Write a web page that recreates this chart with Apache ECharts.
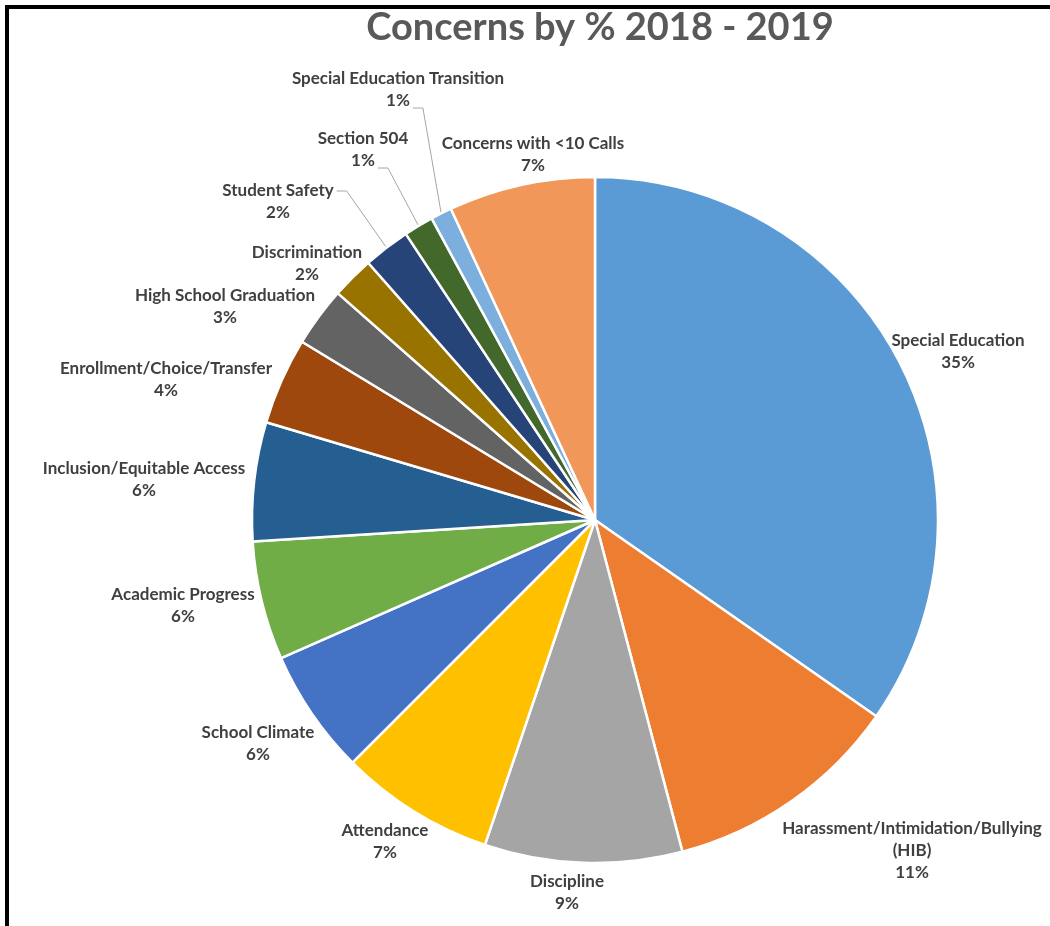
<!DOCTYPE html>
<html>
<head>
<meta charset="utf-8">
<script src="https://cdn.jsdelivr.net/npm/echarts@6/dist/echarts.min.js"></script>
<style>
  html, body { margin: 0; padding: 0; background: #fff; }
  #chart { width: 1050px; height: 926px; }
</style>
</head>
<body>
<div id="chart"></div>
<script>
// Share of calls per concern, clockwise from 12 o'clock
const categories = [
  'Special Education',
  'Harassment/Intimidation/Bullying (HIB)',
  'Discipline',
  'Attendance',
  'School Climate',
  'Academic Progress',
  'Inclusion/Equitable Access',
  'Enrollment/Choice/Transfer',
  'High School Graduation',
  'Discrimination',
  'Student Safety',
  'Section 504',
  'Special Education Transition',
  'Concerns with <10 Calls'
];
const shares = [34.7, 11.2, 9.3, 7.3, 5.9, 5.6, 5.6, 4.1, 2.8, 2.0, 2.2, 1.4, 1.0, 6.9];
const colors = [
  '#5B9BD5', '#ED7D31', '#A5A5A5', '#FFC000', '#4472C4', '#70AD47', '#255E91',
  '#9E480E', '#636363', '#997300', '#264478', '#43682B', '#7CAFDD', '#F1975A'
];

// Centre of each label block (pixels)
const labelCentres = [
  [958, 352], [912, 851], [567, 893], [385, 842], [258, 744], [183, 606], [144, 480],
  [166, 380], [225, 307], [307, 264], [278, 202], [363, 150], [398, 90], [533, 155]
];
// Labels joined to their slice by a leader line, and which text line it leaves from
const leaderFrom = {
  'Student Safety': 'first',
  'Section 504': 'last',
  'Special Education Transition': 'last'
};

const CX = 595, CY = 520, R = 343;
const LABEL_FONT_SIZE = 17;
const LABEL_FONT_FAMILY = 'Lato';
const LINE_H = 22;

const total = shares.reduce((a, b) => a + b, 0);
const midAngles = [];
let acc = 0;
shares.forEach(v => { midAngles.push((acc + v / 2) / total * 2 * Math.PI); acc += v; });

const measureCtx = document.createElement('canvas').getContext('2d');
measureCtx.font = 'bold ' + LABEL_FONT_SIZE + 'px ' + LABEL_FONT_FAMILY;

const chart = echarts.init(document.getElementById('chart'), null, { renderer: 'canvas' });

chart.setOption({
  backgroundColor: '#ffffff',
  animation: false,
  graphic: [
    { type: 'line', shape: { x1: 5, y1: 7, x2: 1050, y2: 7 }, style: { stroke: '#000', lineWidth: 4 } },
    { type: 'line', shape: { x1: 7, y1: 5, x2: 7, y2: 926 }, style: { stroke: '#000', lineWidth: 4 } },
    {
      type: 'text', x: 600, y: 28,
      style: {
        text: 'Concerns by % 2018 - 2019',
        align: 'center', verticalAlign: 'middle',
        fontFamily: 'Lato', fontWeight: 'bold', fontSize: 38, fill: '#595959'
      }
    }
  ],
  series: [{
    type: 'pie',
    center: [CX, CY],
    radius: R,
    startAngle: 90,
    clockwise: true,
    avoidLabelOverlap: false,
    itemStyle: { borderColor: '#ffffff', borderWidth: 2.5 },
    label: {
      show: true,
      position: 'outside',
      color: '#404040',
      fontFamily: LABEL_FONT_FAMILY,
      fontWeight: 'bold',
      fontSize: LABEL_FONT_SIZE,
      lineHeight: LINE_H,
      align: 'center',
      formatter: p => p.name.replace(' (HIB)', '\n(HIB)') + '\n' + Math.round(p.percent) + '%'
    },
    labelLine: { show: false, smooth: false, lineStyle: { color: '#a6a6a6', width: 1 } },
    emphasis: { disabled: true },
    labelLayout: params => {
      const i = params.dataIndex;
      const [x, y] = labelCentres[i];
      const out = { x: x, y: y, align: 'center', verticalAlign: 'middle' };
      const mode = leaderFrom[categories[i]];
      if (mode) {
        const lines = params.text.split('\n');
        const n = lines.length;
        const li = mode === 'first' ? 0 : n - 1;
        const w = measureCtx.measureText(lines[li]).width;
        const ly = y + (li - (n - 1) / 2) * LINE_H + (mode === 'last' ? 7 : 0);
        const ax = x + w / 2 + 3;
        const a = midAngles[i];
        const p0 = [CX + R * Math.sin(a), CY - R * Math.cos(a)];
        out.labelLinePoints = [p0, [ax + 10, ly], [ax, ly]];
      }
      return out;
    },
    data: categories.map((name, i) => ({
      name: name,
      value: shares[i],
      itemStyle: { color: colors[i] },
      labelLine: { show: !!leaderFrom[name] }
    }))
  }]
});
</script>
</body>
</html>
